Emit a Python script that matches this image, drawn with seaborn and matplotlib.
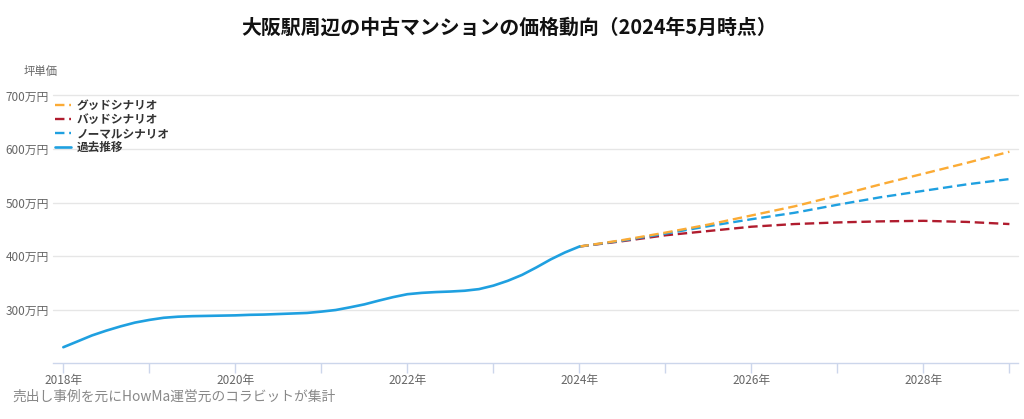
import matplotlib
matplotlib.use("Agg")
import matplotlib.pyplot as plt
import seaborn as sns
import pandas as pd
from matplotlib.ticker import FixedLocator, FuncFormatter

# ---------------- data ----------------
hist_years = [2018.0, 2018.167, 2018.333, 2018.5, 2018.667, 2018.833,
              2019.0, 2019.167, 2019.333, 2019.5, 2019.667, 2019.833,
              2020.0, 2020.167, 2020.333, 2020.5, 2020.667, 2020.833,
              2021.0, 2021.167, 2021.333, 2021.5, 2021.667, 2021.833,
              2022.0, 2022.167, 2022.333, 2022.5, 2022.667, 2022.833,
              2023.0, 2023.167, 2023.333, 2023.5, 2023.667, 2023.833, 2024.0]
hist_values = [230, 241, 252, 261, 269, 276,
               281, 285, 287, 288, 288.5, 289,
               289.5, 290.5, 291, 292, 293, 294,
               296.5, 299.5, 304.5, 310, 317, 323.5,
               329, 331.5, 333, 334, 335.5, 338.5,
               345, 354, 365, 379, 394, 407, 418]

fc_years = [2024.0, 2024.5, 2025.0, 2025.5, 2026.0, 2026.5, 2027.0, 2027.5, 2028.0, 2028.5, 2029.0]
good_values = [418, 430, 444, 459, 476, 493, 513, 534, 554, 574, 595]
normal_values = [418, 429, 442, 456, 469, 481, 496, 510, 522, 534, 544]
bad_values = [418, 428, 439, 447, 455, 460, 463, 465, 466, 464, 460]

series_labels = ["グッドシナリオ", "バッドシナリオ", "ノーマルシナリオ", "過去推移"]
y_ticks = [300, 400, 500, 600, 700]
x_major = [2018, 2020, 2022, 2024, 2026, 2028]
x_minor = [2019, 2021, 2023, 2025, 2027, 2029]

title = "大阪駅周辺の中古マンションの価格動向（2024年5月時点）"
y_title = "坪単価"
caption = "売出し事例を元にHowMa運営元のコラビットが集計"

# ---------------- style ----------------
sns.set_theme(style="white")
plt.rcParams["font.family"] = ["Noto Sans CJK JP", "DejaVu Sans"]

C_GOOD = "#fbab35"
C_BAD = "#b01c2e"
C_NORM = "#1fa0e0"
GREY = "#666666"
AXC = "#ccd6eb"

fig = plt.figure(figsize=(10.24, 4.19), dpi=100)
ax = fig.add_axes([53 / 1024, 1 - 363.3 / 419, (1018 - 53) / 1024, (363.3 - 95.5) / 419])

df_hist = pd.DataFrame({"year": hist_years, "value": hist_values})
df_good = pd.DataFrame({"year": fc_years, "value": good_values})
df_norm = pd.DataFrame({"year": fc_years, "value": normal_values})
df_bad = pd.DataFrame({"year": fc_years, "value": bad_values})

dash = (4, 2)
lw = 1.7
sns.lineplot(data=df_bad, x="year", y="value", ax=ax, color=C_BAD, lw=lw,
             linestyle=(0, dash), label=series_labels[1])
sns.lineplot(data=df_norm, x="year", y="value", ax=ax, color=C_NORM, lw=lw,
             linestyle=(0, dash), label=series_labels[2])
sns.lineplot(data=df_good, x="year", y="value", ax=ax, color=C_GOOD, lw=lw,
             linestyle=(0, dash), label=series_labels[0])
sns.lineplot(data=df_hist, x="year", y="value", ax=ax, color=C_NORM, lw=1.9,
             label=series_labels[3])

ax.set_xlim(2017.88, 2029.10)
ax.set_ylim(200, 700)
ax.set_xlabel("")
ax.set_ylabel("")

# grid
ax.yaxis.set_major_locator(FixedLocator(y_ticks))
ax.yaxis.set_major_formatter(FuncFormatter(lambda v, p: f"{int(v)}万円"))
ax.grid(axis="y", color="#e6e6e6", lw=1)
ax.grid(axis="x", visible=False)
for gl in ax.get_ygridlines():
    gl.set_clip_on(False)
ax.tick_params(axis="y", length=0, pad=3, labelsize=8.5, labelcolor=GREY)

ax.xaxis.set_major_locator(FixedLocator(x_major))
ax.xaxis.set_minor_locator(FixedLocator(x_minor))
ax.xaxis.set_major_formatter(FuncFormatter(lambda v, p: f"{int(v)}年"))
ax.tick_params(axis="x", which="both", direction="out", length=7, width=1,
               color=AXC, labelsize=8.5, labelcolor=GREY, pad=0.5, bottom=True)

for s in ["top", "right", "left"]:
    ax.spines[s].set_visible(False)
ax.spines["bottom"].set_color(AXC)
ax.spines["bottom"].set_linewidth(1)

# legend in required order
h, l = ax.get_legend_handles_labels()
hd = dict(zip(l, h))
leg = ax.legend([hd[k] for k in series_labels], series_labels, loc="upper left",
                bbox_to_anchor=(0.0, 0.995), frameon=False, fontsize=8.4,
                handlelength=1.35, handletextpad=0.5, labelspacing=0.08,
                borderaxespad=0, borderpad=0.2)
for t in leg.get_texts():
    t.set_color("#333333")
    t.set_fontweight("bold")

fig.text(0.497, 1 - 27 / 419, title, ha="center", va="center",
         fontsize=14.3, fontweight="bold", color="#111111")
fig.text(24 / 1024, 1 - 72 / 419, y_title, ha="left", va="center",
         fontsize=8.2, color=GREY)
fig.text(12 / 1024, 1 - 397 / 419, caption, ha="left", va="center",
         fontsize=9.9, color="#888888")

fig.savefig("out.png", dpi=100)
